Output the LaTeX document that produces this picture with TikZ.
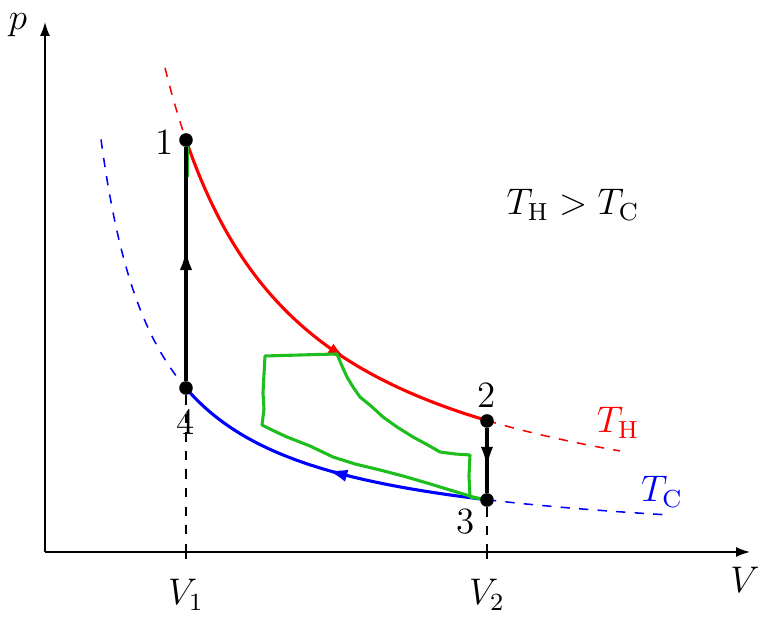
\documentclass[tikz,border=0pt]{standalone}
\usetikzlibrary{arrows.meta,decorations.markings}
\definecolor{loopgreen}{RGB}{30,190,30}
\begin{document}
\begin{tikzpicture}[x=0.324pt,y=0.324pt,
  dot/.style={circle,fill=black,inner sep=0pt,minimum size=4.4pt},
  lbl/.style={font=\large},
  axis/.style={line width=0.5pt,-{Latex[length=4.5pt,width=3.2pt]}},
  proc/.style={line width=1pt},
  guide/.style={line width=0.4pt,dashed},
  midarrow/.style={postaction={decorate},decoration={markings,mark=at position #1 with {\arrow{Latex[length=6.5pt,width=4pt]}}}},
  midarrowrev/.style={postaction={decorate},decoration={markings,mark=at position #1 with {\arrowreversed{Latex[length=6.5pt,width=4pt]}}}},
]
\useasboundingbox (-45,-68) rectangle (734,552);
% axes
\coordinate (O) at (0,0);
\coordinate (xend) at (705,0);
\coordinate (yend) at (0,530);
\draw[axis] (O) -- (xend);
\draw[axis] (O) -- (yend);
\node[lbl] (plab) at (-27,527) {$p$};
\node[lbl] (vlab) at (700,-28) {$V$};
% isotherms
\draw[red,dashed,line width=0.5pt] plot[domain=120:141,samples=20] (\x,{581/\x*100});
\draw[red,dashed,line width=0.5pt] plot[domain=442:575,samples=40] (\x,{581/\x*100});
\draw[blue,dashed,line width=0.5pt] plot[domain=56:141,samples=40] (\x,{231/\x*100});
\draw[blue,dashed,line width=0.5pt] plot[domain=442:620,samples=40] (\x,{231/\x*100});
\draw[red,proc,midarrow=0.645] plot[domain=141:442,samples=80] (\x,{581/\x*100});
\draw[blue,proc,midarrowrev=0.505] plot[domain=141:442,samples=80] (\x,{231/\x*100});
% guides
\coordinate (a1) at (141,0);
\coordinate (a2) at (442,0);
\coordinate (t1) at (141,-7);
\coordinate (t2) at (442,-7);
\draw[line width=0.4pt] (a1) -- (t1);
\draw[line width=0.4pt] (a2) -- (t2);
% green loop
\draw[loopgreen,line width=1pt,line join=round,line cap=round]
  (220,196) -- (255,197) -- (292,198) -- (297,186) -- (302,175) -- (308,165) -- (315,155)
  -- (326,146) -- (338,135) -- (352,125) -- (368,115) -- (381,108) -- (395,100)
  -- (410,98) -- (425,97) -- (424,76) -- (425,55) -- (442,52) -- (428,55)
  -- (405,62) -- (382,69) -- (358,76) -- (335,82) -- (310,88) -- (288,95)
  -- (265,106) -- (242,115) -- (229,121) -- (217,127) -- (219,143) -- (218,159)
  -- (219,178) -- cycle;
\draw[loopgreen,line width=1pt] (142,408) -- (142,375);
% states
\node[dot] (n1) at (141,412) {};
\node[dot] (n2) at (442,131) {};
\node[dot] (n3) at (442,52) {};
\node[dot] (n4) at (141,164) {};
\draw[guide] (n4) -- (a1);
\draw[guide] (n3) -- (a2);
\draw[proc,midarrow=0.56] (n4) -- (n1);
\draw[proc,midarrow=0.6] (n2) -- (n3);
% labels
\node[lbl] (l1) at (120,410) {1};
\node[lbl] (l4) at (141,130) {4};
\node[lbl] (l2) at (442,157) {2};
\node[lbl] (l3) at (421,30) {3};
\node[lbl] (lv1) at (141,-43) {$V_1$};
\node[lbl] (lv2) at (442,-43) {$V_2$};
\node[lbl,red] (lth) at (573,129) {$T_{\mathrm{H}}$};
\node[lbl,blue] (ltc) at (617,60) {$T_{\mathrm{C}}$};
\node[lbl] (cmp) at (528,347) {$T_{\mathrm{H}} > T_{\mathrm{C}}$};
\end{tikzpicture}
\end{document}
